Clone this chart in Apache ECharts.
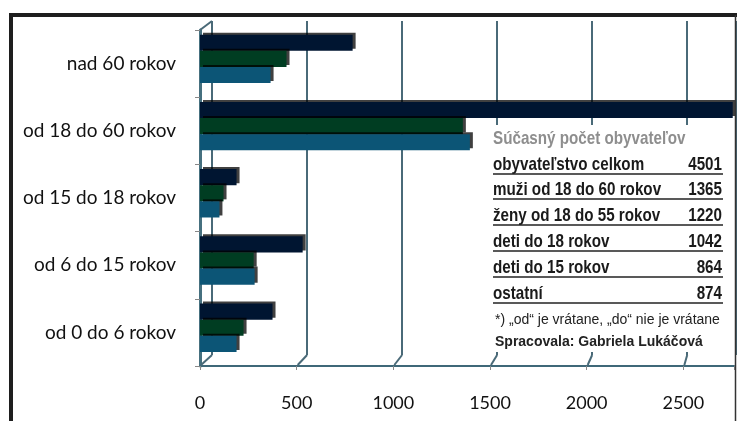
<!DOCTYPE html>
<html>
<head>
<meta charset="utf-8">
<script src="https://cdn.jsdelivr.net/npm/echarts@6/dist/echarts.min.js"></script>
<style>
html,body{margin:0;padding:0;background:#fff;}
#c{width:737px;height:421px;}
</style>
</head>
<body>
<div id="c"></div>
<script>
// ---- data ----
var categories = ['od 0 do 6 rokov', 'od 6 do 15 rokov', 'od 15 do 18 rokov', 'od 18 do 60 rokov', 'nad 60 rokov'];
var seriesTotal = [373, 528, 188, 2740, 785];
var seriesGreen = [224, 276, 121, 1352, 445];
var seriesBlue  = [188, 281, 100, 1388, 363];
var xTicks = [0, 500, 1000, 1500, 2000, 2500];
var tableTitle = 'Súčasný počet obyvateľov';
var tableLabels = ['obyvateľstvo celkom', 'muži od 18 do 60 rokov', 'ženy od 18 do 55 rokov', 'deti do 18 rokov', 'deti do 15 rokov', 'ostatní'];
var tableValues = ['4501', '1365', '1220', '1042', '864', '874'];
var footnote = '*) „od“ je vrátane, „do“ nie je vrátane';
var author = 'Spracovala: Gabriela Lukáčová';

var X_MAX = 2762;
var chart = echarts.init(document.getElementById('c'), null, {renderer: 'canvas'});

function tickFmt(v) { return xTicks.indexOf(v) >= 0 ? String(v) : ''; }

var graphics = [];
// frame
graphics.push({type: 'line', shape: {x1: 9, y1: 15, x2: 737, y2: 15}, style: {stroke: '#1e1e1e', lineWidth: 4}, z: 100});
graphics.push({type: 'line', shape: {x1: 11, y1: 13, x2: 11, y2: 421}, style: {stroke: '#1e1e1e', lineWidth: 4}, z: 100});
graphics.push({type: 'line', shape: {x1: 735.5, y1: 15, x2: 735.5, y2: 421}, style: {stroke: '#333', lineWidth: 1.5}, z: 100});
// table background
graphics.push({type: 'rect', shape: {x: 487, y: 125, width: 245, height: 227}, style: {fill: '#fff'}, z: 3});
// title
graphics.push({type: 'text', x: 493, y: 139, scaleX: 0.8, z: 60,
  style: {text: tableTitle, fill: '#8e8e8e', font: 'bold 19px "Liberation Sans", Arial, sans-serif', textAlign: 'left', textVerticalAlign: 'middle'}});
var rowY = [165, 190, 216, 242, 268, 294];
for (var i = 0; i < tableLabels.length; i++) {
  graphics.push({type: 'text', x: 493, y: rowY[i], scaleX: 0.8, z: 60,
    style: {text: tableLabels[i], fill: '#1a1a1a', font: 'bold 19px "Liberation Sans", Arial, sans-serif', textAlign: 'left', textVerticalAlign: 'middle'}});
  graphics.push({type: 'text', x: 722, y: rowY[i], scaleX: 0.8, z: 60,
    style: {text: tableValues[i], fill: '#1a1a1a', font: 'bold 19px "Liberation Sans", Arial, sans-serif', textAlign: 'right', textVerticalAlign: 'middle'}});
  graphics.push({type: 'line', z: 60, shape: {x1: 493, y1: rowY[i] + 9, x2: 723, y2: rowY[i] + 9}, style: {stroke: '#222', lineWidth: 1.5}});
}
graphics.push({type: 'text', x: 495, y: 320, z: 60,
  style: {text: footnote, fill: '#222', font: '14px "Liberation Sans", Arial, sans-serif', textAlign: 'left', textVerticalAlign: 'middle'}});
graphics.push({type: 'text', x: 495, y: 342, z: 60,
  style: {text: author, fill: '#222', font: 'bold 14px "Liberation Sans", Arial, sans-serif', textAlign: 'left', textVerticalAlign: 'middle'}});

function barStyle(c) {
  return {color: c, shadowColor: 'rgba(0,0,0,0.75)', shadowOffsetX: 3, shadowOffsetY: -2, shadowBlur: 0};
}

var option = {
  animation: false,
  backgroundColor: '#fff',
  grid: [
    {left: 200, top: 25.3, width: 537, height: 336, containLabel: false},   // bars
    {left: 200, top: 30, width: 537, height: 336, containLabel: false},     // axes
    {left: 212, top: 21, width: 537, height: 334, containLabel: false}      // back wall grid lines
  ],
  xAxis: [
    {gridIndex: 0, type: 'value', min: 0, max: X_MAX, interval: 500, show: false},
    {gridIndex: 1, type: 'value', min: 0, max: X_MAX, interval: 500,
      axisLine: {show: true, lineStyle: {color: '#3f6878', width: 2}},
      axisTick: {show: true, length: 4, lineStyle: {color: '#888', width: 1}},
      splitLine: {show: false},
      axisLabel: {formatter: tickFmt, color: '#111', fontSize: 18, fontFamily: 'Lato, "Open Sans", sans-serif', margin: 28}},
    {gridIndex: 2, type: 'value', min: 0, max: X_MAX, interval: 500,
      axisLine: {show: false}, axisTick: {show: false}, axisLabel: {show: false},
      splitLine: {show: true, lineStyle: {color: '#4a6a78', width: 2}}}
  ],
  yAxis: [
    {gridIndex: 0, type: 'category', data: categories, show: false},
    {gridIndex: 1, type: 'category', data: categories,
      axisLine: {show: true, lineStyle: {color: '#46707f', width: 3}},
      axisTick: {show: true, length: 5, lineStyle: {color: '#888', width: 1}},
      axisLabel: {color: '#111', fontSize: 19, fontFamily: 'Lato, "Open Sans", sans-serif', margin: 24}},
    {gridIndex: 2, type: 'category', data: categories, show: false}
  ],
  graphic: graphics,
  series: [
    {name: 'spolu', type: 'bar', xAxisIndex: 0, yAxisIndex: 0, data: seriesTotal, itemStyle: barStyle('#001531'),
      barCategoryGap: '28%', barGap: '0%', z: 5},
    {name: 'muži', type: 'bar', xAxisIndex: 0, yAxisIndex: 0, data: seriesGreen, itemStyle: barStyle('#003d22'),
      barCategoryGap: '28%', barGap: '0%', z: 5},
    {name: 'ženy', type: 'bar', xAxisIndex: 0, yAxisIndex: 0, data: seriesBlue, itemStyle: barStyle('#0c5576'),
      barCategoryGap: '28%', barGap: '0%', z: 5}
  ]
};
chart.setOption(option);

// 3D floor connectors from front ticks to back-wall grid lines (positions via the axes)
var connectors = [];
xTicks.forEach(function (v) {
  var fx = chart.convertToPixel({xAxisIndex: 1}, v);
  var bx = chart.convertToPixel({xAxisIndex: 2}, v);
  connectors.push({type: 'line', z: 4, shape: {x1: fx + 1, y1: 365, x2: bx, y2: 355},
    style: {stroke: '#4a6a78', lineWidth: 2}});
});
var fx0 = chart.convertToPixel({xAxisIndex: 1}, 0);
var bx0 = chart.convertToPixel({xAxisIndex: 2}, 0);
connectors.push({type: 'line', z: 4, shape: {x1: fx0, y1: 30, x2: bx0, y2: 21}, style: {stroke: '#4a6a78', lineWidth: 2}});
chart.setOption({graphic: graphics.concat(connectors)});
</script>
</body>
</html>
